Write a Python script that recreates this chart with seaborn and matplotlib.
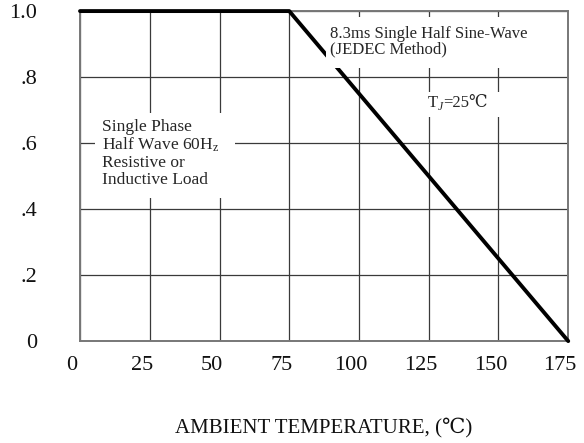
import matplotlib
matplotlib.use("Agg")
import matplotlib.pyplot as plt
from matplotlib.patches import Rectangle
from matplotlib.transforms import ScaledTranslation
import pandas as pd
import seaborn as sb

# derating curve
temperatura = [0, 75, 175]
curent = [1.0, 1.0, 0.0]

xticks = [0, 25, 50, 75, 100, 125, 150, 175]
yticks = [0, 0.2, 0.4, 0.6, 0.8, 1.0]
yticks_labels = ["0", ".2", ".4", ".6", ".8", "1.0"]

eticheta_x = "AMBIENT TEMPERATURE, (\u2103)"
nota_unda = "8.3ms Single Half Sine-Wave\n(JEDEC Method)"
nota_tj = ["T", "J", "=25\u2103"]
nota_sarcina = "Single Phase\nHalf Wave 60H$_\\mathregular{z}$\nResistive or\nInductive Load"

sb.set_style("white")
plt.rcParams["font.family"] = ["Liberation Serif", "DejaVu Serif"]
plt.rcParams["mathtext.fontset"] = "custom"
plt.rcParams["mathtext.rm"] = "Liberation Serif"
plt.rcParams["mathtext.it"] = "Liberation Serif:italic"

t = pd.DataFrame({"T": temperatura, "I": curent})

fig = plt.figure(figsize=(5.84, 4.43), dpi=100)
ax = fig.add_axes([0.137, 0.230, 0.836, 0.745])

sb.lineplot(data=t, x="T", y="I", color="black", linewidth=2.8, ax=ax, zorder=3)
ax.lines[0].set_clip_on(False)

ax.set_xlim(0, 175)
ax.set_ylim(0, 1.0)
ax.set_xticks(xticks)
ax.set_yticks(yticks)
ax.set_yticklabels(yticks_labels)
ax.tick_params(axis="both", length=0, labelsize=16, colors="#111111")
ax.tick_params(axis="x", pad=11)
ax.tick_params(axis="y", pad=31)
for lab in ax.get_xticklabels():
    lab.set_transform(lab.get_transform() + ScaledTranslation(-8 / 100, 0, fig.dpi_scale_trans))

ax.grid(True, color="#3a3a3a", linewidth=0.9)
ax.set_axisbelow(True)
for s in ax.spines.values():
    s.set_color("#777777")
    s.set_linewidth(1.4)
    s.set_zorder(2.5)

ax.set_xlabel(eticheta_x, fontsize=15, labelpad=30, color="#111111")
ax.set_ylabel("")

# white patches behind the notes
ax.add_patch(Rectangle((88, 0.827), 77, 0.155, facecolor="white", edgecolor="none", zorder=4))
ax.add_patch(Rectangle((118, 0.68), 42, 0.075, facecolor="white", edgecolor="none", zorder=4))
ax.add_patch(Rectangle((5.4, 0.433), 50.2, 0.258, facecolor="white", edgecolor="none", zorder=4))

ax.text(89.5, 0.955, nota_unda, fontsize=12, va="top", ha="left", linespacing=0.95, zorder=6)
ax.text(7.8, 0.672, nota_sarcina, fontsize=12.5, va="top", ha="left", linespacing=1.05, zorder=6)

# T_J=25C, built from pieces so the celsius sign can fall back to DejaVu
tT = ax.text(124.5, 0.698, nota_tj[0], fontsize=12, va="bottom", ha="left", zorder=6)
tJ = ax.annotate(nota_tj[1], xy=(1, 0), xycoords=tT, xytext=(0, -1.5), textcoords="offset points",
                 fontsize=8.5, style="italic", va="bottom", ha="left", zorder=6)
ax.annotate(nota_tj[2], xy=(1, 0), xycoords=(tJ, tT), xytext=(0.3, 0), textcoords="offset points",
            fontsize=12, va="bottom", ha="left", zorder=6)

fig.savefig("out.png", dpi=100)
